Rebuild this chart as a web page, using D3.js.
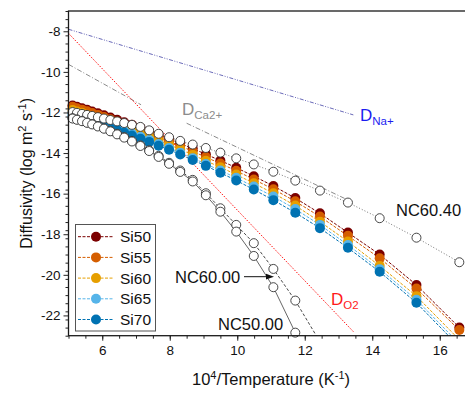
<!DOCTYPE html>
<html>
<head>
<meta charset="utf-8">
<script src="https://d3js.org/d3.v7.min.js"></script>
<style>
  body { margin: 0; background: #fff; }
  text { font-family: "Liberation Sans", Arial, sans-serif; }
</style>
</head>
<body>
<div id="chart"></div>
<script>
// 10^4/T positions shared by all series
var xVals = [4.99, 5.12, 5.25, 5.40, 5.55, 5.70, 5.87, 6.05, 6.24, 6.44, 6.65, 6.88, 7.13, 7.39, 7.67,
             7.98, 8.31, 8.68, 9.07, 9.50, 9.97, 10.49, 11.07, 11.72, 12.45, 13.28, 14.22, 15.31, 16.58];

var si50 = [-11.60, -11.66, -11.72, -11.79, -11.87, -11.95, -12.04, -12.14, -12.25, -12.36, -12.48, -12.61, -12.76, -12.92, -13.10,
            -13.30, -13.52, -13.78, -14.06, -14.37, -14.72, -15.14, -15.62, -16.22, -16.97, -17.92, -19.00, -20.50, -22.60];
var si55 = [-11.66, -11.72, -11.79, -11.86, -11.94, -12.03, -12.12, -12.22, -12.34, -12.45, -12.58, -12.71, -12.87, -13.03, -13.22,
            -13.42, -13.65, -13.92, -14.20, -14.52, -14.87, -15.30, -15.78, -16.38, -17.13, -18.08, -19.18, -20.68, -22.72];
var si60 = [-11.82, -11.88, -11.95, -12.02, -12.11, -12.19, -12.29, -12.39, -12.51, -12.62, -12.75, -12.88, -13.04, -13.20, -13.39,
            -13.59, -13.82, -14.09, -14.38, -14.70, -15.06, -15.49, -15.98, -16.59, -17.38, -18.36, -19.56, -21.05, -23.20];
var si65 = [-11.98, -12.04, -12.11, -12.18, -12.27, -12.35, -12.45, -12.55, -12.67, -12.78, -12.91, -13.04, -13.20, -13.36, -13.55,
            -13.75, -13.98, -14.25, -14.54, -14.86, -15.22, -15.65, -16.14, -16.76, -17.54, -18.53, -19.72, -21.23, -23.40];
var si70 = [-12.10, -12.16, -12.22, -12.29, -12.38, -12.46, -12.55, -12.65, -12.77, -12.88, -13.00, -13.14, -13.29, -13.45, -13.64,
            -13.84, -14.07, -14.34, -14.63, -14.97, -15.35, -15.80, -16.32, -16.94, -17.70, -18.67, -19.85, -21.38, -23.55];

// open circle series start at the second x position
var nc6040 = [-11.98, -12.02, -12.07, -12.12, -12.17, -12.23, -12.30, -12.37, -12.44, -12.52, -12.61, -12.71, -12.88, -13.05,
              -13.22, -13.40, -13.58, -13.75, -13.98, -14.26, -14.56, -14.92, -15.36, -15.85, -16.44, -17.21, -18.17, -19.38];
var nc6000 = [-12.28, -12.34, -12.41, -12.49, -12.57, -12.67, -12.78, -12.91, -13.05, -13.21, -13.40, -13.62, -13.86, -14.14,
              -14.48, -14.86, -15.32, -15.98, -16.72, -17.54, -18.44, -19.71, -21.27, -23.30];
var nc5000 = [-12.30, -12.36, -12.43, -12.51, -12.59, -12.69, -12.80, -12.93, -13.08, -13.24, -13.43, -13.65, -13.90, -14.19,
              -14.53, -14.93, -15.40, -16.08, -16.89, -17.87, -19.07, -20.61, -22.85];

// reference lines (x, log D)
var dNa = [[5, -7.9], [13.44, -12.12]];
var dCaA = [[5, -9.63], [7.15, -11.62]];
var dCaB = [[8.5, -12.53], [13.3, -16.33]];
var dO2 = [[5, -8.1], [13.44, -22.8]];

var siNames = ["Si50", "Si55", "Si60", "Si65", "Si70"];
var siColors = ["#7b0000", "#d55e00", "#e69f00", "#56b4e9", "#0072b2"];
var xTicks = [6, 8, 10, 12, 14, 16];
var yTicks = [-8, -10, -12, -14, -16, -18, -20, -22];

(function() {
var W = 465, H = 394;
var pl = 68.5, pt = 11, pb = 335.7, pr = 473.5;

var svg = d3.select("#chart").append("svg")
  .attr("width", W).attr("height", H);

var x = d3.scaleLinear().domain([5, 17]).range([pl, pr]);
var y = d3.scaleLinear().domain([-23, -7]).range([pb, pt]);

svg.append("clipPath").attr("id", "plotclip")
  .append("rect").attr("x", pl).attr("y", pt)
  .attr("width", pr - pl).attr("height", pb - pt);

var plot = svg.append("g").attr("clip-path", "url(#plotclip)");

var line = d3.line().x(function(d) { return x(d[0]); }).y(function(d) { return y(d[1]); });

function pairs(vals, offset) {
  return vals.map(function(v, i) { return [xVals[i + offset], v]; });
}
function inside(d) { return d[0] >= 5 && d[0] <= 17 && d[1] >= -23 && d[1] <= -7; }

// reference diffusivity lines
plot.append("path").datum(dNa).attr("d", line).attr("fill", "none")
  .attr("stroke", "#6a6ab8").attr("stroke-width", 1).attr("stroke-dasharray", "4,1.5,1,1.5,1,1.5");
[dCaA, dCaB].forEach(function(seg) {
  plot.append("path").datum(seg).attr("d", line).attr("fill", "none")
    .attr("stroke", "#8c8c8c").attr("stroke-width", 1).attr("stroke-dasharray", "5,2,1,2");
});
plot.append("path").datum(dO2).attr("d", line).attr("fill", "none")
  .attr("stroke", "#ff1010").attr("stroke-width", 1).attr("stroke-dasharray", "1.5,1.5");

// Si series
var siData = [si50, si55, si60, si65, si70];
siData.forEach(function(vals, i) {
  plot.append("path").datum(pairs(vals, 0)).attr("d", line).attr("fill", "none")
    .attr("stroke", siColors[i]).attr("stroke-width", 1).attr("stroke-dasharray", "3,1.5");
});
siData.forEach(function(vals, i) {
  var pts = pairs(vals, 0).filter(inside);
  svg.append("g").selectAll("circle").data(pts).enter().append("circle")
    .attr("cx", function(d) { return x(d[0]); })
    .attr("cy", function(d) { return y(d[1]); })
    .attr("r", 5)
    .attr("fill", siColors[i]);
});

// NC glasses, open circles
var ncSeries = [
  {vals: nc6040, dash: "1,2", color: "#666"},
  {vals: nc6000, dash: "3,2", color: "#333"},
  {vals: nc5000, dash: null, color: "#555"}
];
ncSeries.forEach(function(s) {
  var p = plot.append("path").datum(pairs(s.vals, 1)).attr("d", line).attr("fill", "none")
    .attr("stroke", s.color).attr("stroke-width", 0.9);
  if (s.dash) p.attr("stroke-dasharray", s.dash);
});
ncSeries.forEach(function(s) {
  var pts = pairs(s.vals, 1).filter(inside);
  svg.append("g").selectAll("circle").data(pts).enter().append("circle")
    .attr("cx", function(d) { return x(d[0]); })
    .attr("cy", function(d) { return y(d[1]); })
    .attr("r", 4.5)
    .attr("fill", "#fff")
    .attr("stroke", "#333").attr("stroke-width", 0.9);
});

// axes
var xAxis = svg.append("g").attr("transform", "translate(0," + pb + ")")
  .call(d3.axisBottom(x).tickValues(xTicks).tickSize(5).tickFormat(d3.format("d")));
var xMinor = svg.append("g").attr("transform", "translate(0," + pb + ")")
  .call(d3.axisBottom(x).tickValues(d3.range(5, 17.01, 0.5)).tickSize(3).tickFormat(""));
var yAxis = svg.append("g").attr("transform", "translate(" + pl + ",0)")
  .call(d3.axisLeft(y).tickValues(yTicks).tickSize(5).tickFormat(function(d) { return "-" + Math.abs(d); }));
var yMinor = svg.append("g").attr("transform", "translate(" + pl + ",0)")
  .call(d3.axisLeft(y).tickValues(d3.range(-23, -6.99, 0.4).map(function(v) { return Math.round(v * 10) / 10; })).tickSize(3).tickFormat(""));

[xAxis, xMinor, yAxis, yMinor].forEach(function(g) {
  g.select(".domain").remove();
  g.attr("font-family", null);
  g.selectAll(".tick line").attr("stroke", "#222").attr("stroke-width", 1);
});
xAxis.selectAll("text").style("font-size", "13.5px").attr("fill", "#111").attr("y", 10);
yAxis.selectAll("text").style("font-size", "13.5px").attr("fill", "#111").attr("x", -8);

// frame
svg.append("rect").attr("x", pl).attr("y", pt)
  .attr("width", pr - pl).attr("height", pb - pt)
  .attr("fill", "none").attr("stroke", "#1a1a1a").attr("stroke-width", 1.3);

// axis titles
var xt = svg.append("text").attr("x", (pl + pr) / 2).attr("y", 385)
  .attr("text-anchor", "middle").style("font-size", "16.5px").attr("fill", "#111");
xt.append("tspan").text("10");
xt.append("tspan").attr("dy", -6).style("font-size", "11px").text("4");
xt.append("tspan").attr("dy", 6).text("/Temperature (K");
xt.append("tspan").attr("dy", -6).style("font-size", "11px").text("-1");
xt.append("tspan").attr("dy", 6).text(")");

var yt = svg.append("text").attr("transform", "translate(32," + ((pt + pb) / 2) + ") rotate(-90)")
  .attr("text-anchor", "middle").style("font-size", "16px").attr("fill", "#111");
yt.append("tspan").text("Diffusivity (log m");
yt.append("tspan").attr("dy", -6).style("font-size", "11px").text("2");
yt.append("tspan").attr("dy", 6).text(" s");
yt.append("tspan").attr("dy", -6).style("font-size", "11px").text("-1");
yt.append("tspan").attr("dy", 6).text(")");

// line labels
function dLabel(px, py, sub, color) {
  var t = svg.append("text").attr("x", px).attr("y", py).style("font-size", "17px").attr("fill", color);
  t.append("tspan").text("D");
  t.append("tspan").attr("dy", 4).style("font-size", "11.5px").text(sub);
}
dLabel(360, 120.5, "Na+", "#1c1cf0");
dLabel(182, 114.5, "Ca2+", "#8c8c8c");
dLabel(331, 305, "O2", "#ff1a1a");

function ncLabel(px, py, s) {
  svg.append("text").attr("x", px).attr("y", py).style("font-size", "16.5px").attr("fill", "#111").text(s);
}
ncLabel(396, 215.5, "NC60.40");
ncLabel(175, 282.5, "NC60.00");
ncLabel(218, 330, "NC50.00");

// arrow to NC60.00
svg.append("line").attr("x1", 244).attr("y1", 276.7).attr("x2", 267).attr("y2", 276.7)
  .attr("stroke", "#111").attr("stroke-width", 1);
svg.append("path").attr("d", "M266,273.8 L274,276.7 L266,279.6 Z").attr("fill", "#111");

// legend
var lg = svg.append("g");
lg.append("rect").attr("x", 75.5).attr("y", 224.5).attr("width", 80).attr("height", 106.5)
  .attr("fill", "#fff").attr("stroke", "#555").attr("stroke-width", 1);
siNames.forEach(function(name, i) {
  var ly = 236.7 + i * 20.7;
  lg.append("line").attr("x1", 78).attr("x2", 114).attr("y1", ly).attr("y2", ly)
    .attr("stroke", siColors[i]).attr("stroke-width", 1).attr("stroke-dasharray", "3,1.5");
  lg.append("circle").attr("cx", 96).attr("cy", ly).attr("r", 5).attr("fill", siColors[i]);
  lg.append("text").attr("x", 120).attr("y", ly + 5.6).style("font-size", "15.5px").attr("fill", "#111").text(name);
});
})();
</script>
</body>
</html>
